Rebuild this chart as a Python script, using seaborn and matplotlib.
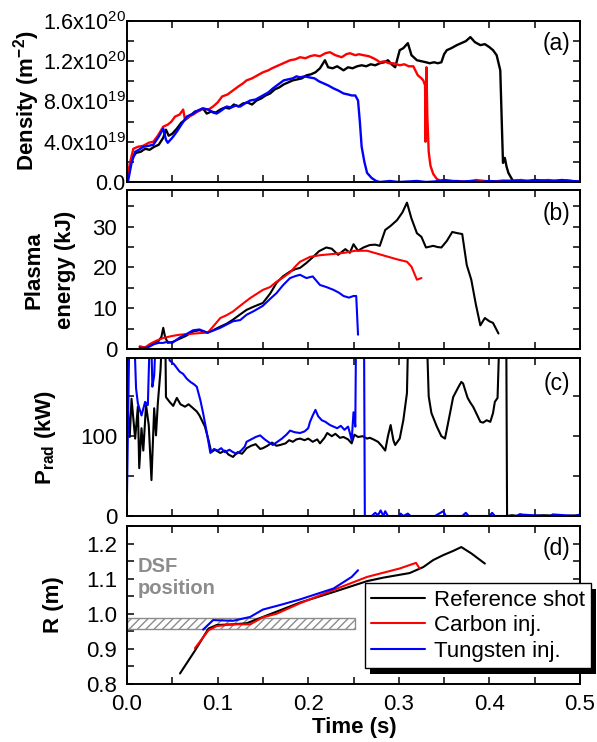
"""
Impurity injection shots: density, plasma energy, radiated power and R position
"""

import numpy as np
import pandas as pd
import matplotlib
matplotlib.use('Agg')
import matplotlib.pyplot as plt
import matplotlib.transforms as mtransforms
from matplotlib.patches import Rectangle
from matplotlib.ticker import MultipleLocator, FormatStrFormatter
import seaborn as sns

# ==================================================================================
# DATA
# ==================================================================================
# (a) line integrated density, in units of 1e19 m^-2
t_dens_ref = [0.0, 0.003, 0.006, 0.010, 0.015, 0.020, 0.025, 0.030, 0.035, 0.040,
              0.043, 0.046, 0.050, 0.055, 0.060, 0.066, 0.070, 0.075, 0.080, 0.084,
              0.088, 0.093, 0.098, 0.103, 0.108, 0.113, 0.118, 0.123, 0.128, 0.133,
              0.138, 0.143, 0.148, 0.153, 0.158, 0.163, 0.168, 0.173, 0.178, 0.183,
              0.188, 0.193, 0.198, 0.203, 0.208, 0.213, 0.2185, 0.222, 0.227, 0.232,
              0.239, 0.244, 0.249, 0.254, 0.259, 0.264, 0.269, 0.274, 0.279, 0.284,
              0.288, 0.292, 0.296, 0.301, 0.305, 0.310, 0.314, 0.320, 0.325, 0.330,
              0.334, 0.339, 0.343, 0.347, 0.350, 0.353, 0.358, 0.364, 0.369, 0.374,
              0.379, 0.384, 0.390, 0.395, 0.400, 0.404, 0.408, 0.412, 0.414, 0.415,
              0.417, 0.419, 0.421, 0.426, 0.432, 0.440, 0.450, 0.460, 0.470, 0.480,
              0.490, 0.500]
dens_ref = [0.0, 1.3, 2.4, 2.9, 3.0, 3.3, 3.2, 3.5, 3.7, 4.4,
            5.2, 4.6, 4.8, 5.3, 5.9, 6.3, 6.6, 7.0, 7.1, 7.3,
            6.8, 7.0, 6.9, 7.2, 7.4, 7.3, 7.7, 7.5, 7.8, 7.9,
            7.7, 8.1, 8.3, 8.6, 8.8, 9.2, 9.4, 9.7, 9.9, 10.1,
            10.2, 10.3, 10.6, 10.7, 10.9, 11.3, 12.1, 11.4, 11.3, 11.5,
            11.1, 11.4, 11.3, 11.5, 11.6, 11.5, 11.7, 11.6, 11.8, 11.9,
            12.1, 11.7, 11.4, 13.1, 13.3, 13.8, 12.6, 12.1, 12.0, 11.9,
            11.8, 11.9, 11.8, 11.9, 12.7, 13.1, 13.3, 13.6, 13.8, 14.0,
            14.4, 13.9, 13.6, 13.7, 13.4, 13.1, 12.6, 11.1, 4.9, 1.9,
            2.4, 1.5, 0.9, 0.1, 0.05, 0.1, 0.0, 0.1, 0.05, 0.15,
            0.1, 0.05]

t_dens_c = [0.0, 0.003, 0.007, 0.012, 0.018, 0.024, 0.029, 0.034, 0.040, 0.045,
            0.049, 0.053, 0.058, 0.062, 0.064, 0.068, 0.073, 0.078, 0.084, 0.090,
            0.095, 0.100, 0.105, 0.111, 0.117, 0.123, 0.128, 0.132, 0.138, 0.144,
            0.150, 0.156, 0.160, 0.165, 0.170, 0.175, 0.180, 0.186, 0.191, 0.197,
            0.202, 0.207, 0.213, 0.219, 0.224, 0.230, 0.237, 0.242, 0.246, 0.252,
            0.256, 0.261, 0.267, 0.272, 0.276, 0.279, 0.284, 0.289, 0.294, 0.301,
            0.306, 0.311, 0.316, 0.321, 0.325, 0.327, 0.329, 0.3295, 0.3305, 0.3315,
            0.333, 0.335, 0.338, 0.342, 0.346, 0.355, 0.365, 0.375, 0.385, 0.395,
            0.405, 0.415, 0.425, 0.435, 0.445, 0.455, 0.465, 0.475, 0.485, 0.495,
            0.500]
dens_c = [0.0, 1.8, 3.3, 3.5, 3.6, 3.9, 4.0, 4.6, 5.5, 5.7,
          6.0, 6.5, 6.7, 7.2, 6.2, 6.5, 6.7, 7.0, 7.3, 7.2,
          7.5, 7.9, 8.5, 8.7, 9.1, 9.5, 9.8, 10.1, 10.3, 10.6,
          10.9, 11.1, 11.3, 11.5, 11.7, 11.9, 12.1, 12.2, 12.4, 12.3,
          12.5, 12.6, 12.5, 12.8, 12.9, 12.6, 12.4, 12.7, 12.8, 12.6,
          12.7, 12.6, 12.5, 12.3, 12.1, 11.9, 12.0, 11.8, 11.8, 11.6,
          11.7, 11.5, 11.5, 10.6, 10.3, 10.1, 9.6, 4.0, 11.4, 6.5,
          3.0, 1.6, 0.8, 0.3, 0.1, 0.05, 0.1, 0.0, 0.2, 0.1,
          0.05, 0.15, 0.1, 0.2, 0.05, 0.1, 0.2, 0.1, 0.15, 0.05,
          0.1]

t_dens_w = [0.0, 0.001, 0.005, 0.009, 0.013, 0.018, 0.024, 0.029, 0.035, 0.040,
            0.043, 0.045, 0.050, 0.055, 0.060, 0.066, 0.073, 0.078, 0.083, 0.090,
            0.095, 0.099, 0.104, 0.110, 0.115, 0.120, 0.125, 0.130, 0.136, 0.142,
            0.150, 0.156, 0.161, 0.167, 0.173, 0.178, 0.183, 0.187, 0.191, 0.196,
            0.201, 0.207, 0.212, 0.217, 0.222, 0.228, 0.233, 0.239, 0.244, 0.248,
            0.252, 0.255, 0.257, 0.259, 0.262, 0.265, 0.270, 0.275, 0.279, 0.290,
            0.300, 0.310, 0.320, 0.330, 0.340, 0.350, 0.360, 0.370, 0.380, 0.390,
            0.400, 0.410, 0.420, 0.430, 0.440, 0.450, 0.460, 0.470, 0.480, 0.490,
            0.500]
dens_w = [0.0, 0.0, 1.9, 3.0, 3.2, 3.5, 3.6, 3.7, 4.5, 5.3,
          4.2, 3.9, 4.4, 5.0, 5.7, 6.5, 6.8, 7.1, 7.3, 7.2,
          6.9, 6.8, 7.1, 7.5, 7.4, 7.6, 7.5, 7.8, 8.1, 8.2,
          8.6, 8.9, 9.3, 9.7, 10.1, 10.2, 10.3, 10.5, 10.4, 10.5,
          10.4, 10.3, 10.0, 9.8, 9.6, 9.3, 9.1, 8.8, 8.7, 8.6,
          8.6, 8.1, 6.0, 3.5, 2.0, 0.9, 0.4, 0.1, 0.0, 0.1,
          0.0, 0.05, 0.1, 0.0, 0.05, 0.2, 0.1, 0.05, 0.1, 0.0,
          0.1, 0.05, 0.1, 0.15, 0.1, 0.2, 0.15, 0.1, 0.2, 0.1,
          0.05]

# (b) plasma stored energy, kJ
t_we_ref = [0.014, 0.020, 0.025, 0.030, 0.035, 0.038, 0.040, 0.042, 0.045, 0.050,
            0.058, 0.065, 0.073, 0.080, 0.089, 0.095, 0.103, 0.110, 0.117, 0.125,
            0.132, 0.140, 0.150, 0.158, 0.165, 0.172, 0.180, 0.186, 0.191, 0.198,
            0.205, 0.212, 0.220, 0.226, 0.233, 0.237, 0.241, 0.246, 0.250, 0.255,
            0.261, 0.268, 0.274, 0.279, 0.285, 0.291, 0.298, 0.304, 0.309, 0.314,
            0.320, 0.325, 0.330, 0.338, 0.343, 0.347, 0.353, 0.359, 0.365, 0.370,
            0.375, 0.380, 0.385, 0.390, 0.395, 0.400, 0.404, 0.410]
we_ref = [0.6, 0.4, 0.8, 1.5, 2.0, 3.0, 5.2, 3.0, 1.5, 1.7,
          2.5, 3.2, 4.3, 4.6, 4.0, 4.6, 5.5, 6.2, 7.2, 8.5,
          9.6, 10.4, 11.3, 13.6, 16.2, 17.8, 19.0, 19.6, 19.9, 21.1,
          22.5, 24.0, 24.9, 24.6, 23.1, 23.8, 24.5, 23.6, 25.7, 24.1,
          24.9, 25.5, 25.6, 25.3, 29.2, 30.2, 31.6, 33.5, 35.9, 32.0,
          28.4, 27.5, 24.9, 25.3, 25.0, 24.9, 26.5, 28.7, 28.4, 28.2,
          20.6, 17.0, 11.0, 5.8, 7.6, 6.8, 6.4, 3.8]

t_we_c = [0.014, 0.020, 0.025, 0.032, 0.040, 0.050, 0.058, 0.070, 0.080, 0.089,
          0.095, 0.103, 0.110, 0.117, 0.126, 0.136, 0.143, 0.150, 0.158, 0.165,
          0.172, 0.180, 0.186, 0.191, 0.202, 0.213, 0.227, 0.240, 0.252, 0.265,
          0.276, 0.287, 0.298, 0.309, 0.314, 0.320, 0.325]
we_c = [0.6, 0.4, 1.2, 2.0, 2.7, 3.2, 3.5, 3.7, 3.9, 4.0,
        5.5, 7.6, 8.3, 9.2, 10.8, 12.5, 13.5, 14.5, 15.2, 16.5,
        17.5, 18.8, 20.3, 21.4, 22.6, 23.0, 23.3, 23.6, 24.1, 24.1,
        23.4, 22.7, 22.0, 21.4, 20.2, 17.0, 17.4]

t_we_w = [0.014, 0.020, 0.025, 0.030, 0.035, 0.040, 0.045, 0.050, 0.058, 0.065,
          0.073, 0.080, 0.089, 0.095, 0.103, 0.110, 0.117, 0.125, 0.132, 0.140,
          0.150, 0.158, 0.165, 0.172, 0.180, 0.186, 0.191, 0.198, 0.205, 0.213,
          0.220, 0.228, 0.234, 0.239, 0.245, 0.250, 0.253, 0.255]
we_w = [0.3, 0.2, 0.6, 1.2, 1.5, 1.5, 1.8, 1.5, 2.8, 3.6,
        4.6, 4.8, 4.0, 4.5, 5.2, 6.0, 6.8, 7.1, 8.4, 9.3,
        10.6, 12.3, 13.7, 15.6, 17.4, 17.9, 18.2, 17.4, 17.8, 15.7,
        15.2, 14.5, 13.8, 13.0, 12.6, 13.0, 13.0, 3.5]

# (c) radiated power, kW (values above the axis top are off scale)
t_prad_ref = [0.000, 0.003, 0.005, 0.009, 0.012, 0.0135, 0.016, 0.018, 0.021, 0.024,
              0.027, 0.030, 0.032, 0.034, 0.037, 0.040, 0.042, 0.043, 0.047, 0.051,
              0.055, 0.059, 0.064, 0.068, 0.073, 0.077, 0.080, 0.086, 0.090, 0.093,
              0.097, 0.103, 0.108, 0.112, 0.117, 0.122, 0.127, 0.132, 0.137, 0.142,
              0.147, 0.150, 0.155, 0.160, 0.165, 0.169, 0.175, 0.179, 0.183, 0.187,
              0.191, 0.196, 0.200, 0.205, 0.210, 0.213, 0.218, 0.221, 0.226, 0.230,
              0.235, 0.239, 0.244, 0.248, 0.251, 0.255, 0.260, 0.265, 0.268, 0.272,
              0.277, 0.281, 0.285, 0.288, 0.291, 0.294, 0.296, 0.301, 0.305, 0.309,
              0.311, 0.330, 0.333, 0.336, 0.342, 0.347, 0.351, 0.355, 0.360, 0.366,
              0.369, 0.371, 0.374, 0.376, 0.379, 0.382, 0.385, 0.390, 0.393, 0.397,
              0.401, 0.404, 0.406, 0.409, 0.412, 0.4185, 0.4195, 0.425, 0.432, 0.434,
              0.440, 0.460, 0.480, 0.500]
prad_ref = [150, 99, 147, 97, 137, 60, 110, 82, 139, 114,
            45, 135, 101, 141, 183, 260, 260, 149, 143, 138,
            148, 140, 137, 140, 135, 131, 126, 112, 95, 80,
            83, 79, 82, 77, 74, 80, 78, 85, 88, 90,
            84, 85, 88, 92, 88, 89, 91, 95, 93, 96,
            97, 95, 97, 93, 96, 91, 98, 104, 100, 103,
            98, 99, 96, 91, 102, 99, 100, 97, 98, 96,
            93, 88, 82, 100, 114, 95, 89, 97, 120, 154,
            260, 260, 150, 129, 112, 100, 97, 120, 149, 162,
            168, 166, 155, 148, 142, 137, 130, 118, 117, 120,
            118, 129, 143, 148, 260, 260, 0, 1, 0, 2,
            0, 1, 0, 1]

t_prad_w = [0.000, 0.003, 0.007, 0.010, 0.012, 0.016, 0.020, 0.023, 0.026, 0.028,
            0.030, 0.033, 0.036, 0.040, 0.044, 0.047, 0.052, 0.058, 0.062, 0.066,
            0.070, 0.074, 0.077, 0.081, 0.084, 0.088, 0.092, 0.096, 0.100, 0.104,
            0.108, 0.113, 0.117, 0.121, 0.126, 0.130, 0.132, 0.137, 0.142, 0.147,
            0.152, 0.157, 0.161, 0.166, 0.171, 0.176, 0.180, 0.185, 0.191, 0.196,
            0.200, 0.202, 0.205, 0.208, 0.211, 0.215, 0.219, 0.224, 0.228, 0.232,
            0.236, 0.240, 0.244, 0.246, 0.248, 0.250, 0.252, 0.253, 0.2615, 0.2625,
            0.270, 0.274, 0.277, 0.280, 0.283, 0.285, 0.288, 0.300, 0.302, 0.305,
            0.310, 0.313, 0.340, 0.349, 0.352, 0.370, 0.374, 0.377, 0.400, 0.403,
            0.406, 0.430, 0.433, 0.460, 0.467, 0.470, 0.495, 0.500]
prad_w = [28, 260, 260, 160, 141, 126, 143, 139, 260, 162,
          176, 260, 198, 260, 260, 195, 190, 181, 178, 172,
          168, 165, 162, 145, 129, 105, 79, 84, 82, 85,
          80, 83, 80, 78, 82, 87, 93, 96, 99, 101,
          96, 92, 89, 93, 97, 102, 107, 105, 104, 106,
          110, 118, 126, 133, 125, 120, 118, 114, 112, 110,
          113, 108, 112, 104, 95, 130, 112, 260, 260, 0,
          0, 4, 1, 7, 0, 6, 0, 0, 3, 0,
          3, 0, 0, 6, 0, 0, 4, 0, 0, 4,
          0, 0, 2, 0, 0, 2, 0, 2]

# (d) major radius R, m
t_r_ref = [0.0585, 0.075, 0.090, 0.099, 0.117, 0.132, 0.150, 0.165, 0.191, 0.228,
           0.265, 0.283, 0.312, 0.327, 0.338, 0.349, 0.360, 0.369, 0.380, 0.395]
r_ref = [0.830, 0.895, 0.958, 0.968, 0.970, 0.973, 0.991, 1.006, 1.032, 1.062,
         1.093, 1.103, 1.116, 1.133, 1.153, 1.167, 1.179, 1.190, 1.172, 1.143]

t_r_c = [0.075, 0.090, 0.099, 0.117, 0.136, 0.150, 0.165, 0.191, 0.228, 0.265,
         0.301, 0.319, 0.323]
r_c = [0.902, 0.953, 0.965, 0.970, 0.970, 0.990, 1.000, 1.030, 1.068, 1.105,
       1.129, 1.145, 1.129]

t_r_w = [0.084, 0.095, 0.117, 0.136, 0.150, 0.169, 0.191, 0.228, 0.248, 0.255]
r_w = [0.955, 0.982, 0.980, 0.991, 1.012, 1.025, 1.041, 1.072, 1.105, 1.124]

# DSF position band
dsf_t_end = 0.252
dsf_r_low, dsf_r_high = 0.958, 0.987

labels = ['Reference shot', 'Carbon inj.', 'Tungsten inj.']
colors = ['black', '#ff0000', '#0000ff']

# ==================================================================================
# STYLE
# ==================================================================================
sns.set_style('ticks', rc={'axes.edgecolor': 'black', 'text.color': 'black',
                           'axes.labelcolor': 'black', 'xtick.color': 'black',
                           'ytick.color': 'black'})
plt.rcParams['font.family'] = ['Liberation Sans', 'DejaVu Sans']
plt.rcParams['mathtext.fontset'] = 'custom'
plt.rcParams['mathtext.rm'] = 'Liberation Sans'
plt.rcParams['mathtext.it'] = 'Liberation Sans:italic'
plt.rcParams['mathtext.bf'] = 'Liberation Sans:bold'
plt.rcParams['hatch.color'] = '#8c8c8c'
plt.rcParams['hatch.linewidth'] = 1.0

FS = 16
W, H = 597, 742
fig = plt.figure(figsize=(W / 100, H / 100), dpi=100)


def px_axes(top, bottom, left=127, right=580):
    return fig.add_axes([left / W, 1 - bottom / H, (right - left) / W, (bottom - top) / H])


def style_axis(ax):
    ax.set_xlim(0, 0.5)
    ax.xaxis.set_major_locator(MultipleLocator(0.1))
    ax.xaxis.set_minor_locator(MultipleLocator(0.05))
    ax.tick_params(which='both', direction='in', top=True, right=True,
                   length=5, width=1.1, labelsize=FS, pad=7)
    for sp in ax.spines.values():
        sp.set_linewidth(1.4)
        sp.set_color('black')
    ax.set_xlabel('')
    ax.set_ylabel('')


def draw(ax, series, lw=1.5, with_labels=False):
    for (tt, vv), c, lab in zip(series, colors, labels):
        sns.lineplot(x=tt, y=vv, color=c, linewidth=lw, ax=ax, estimator=None,
                     sort=False, label=lab if with_labels else None, legend=False)


ax1 = px_axes(21, 182)
ax2 = px_axes(190, 349)
ax3 = px_axes(358, 516)
ax4 = px_axes(526, 684)

# (a) density
draw(ax1, [(t_dens_ref, dens_ref), (t_dens_c, dens_c), (t_dens_w, dens_w)], lw=1.7)
style_axis(ax1)
ax1.set_ylim(0, 16)
ax1.set_yticks([0, 4, 8, 12, 16])
ax1.set_yticklabels(['0.0', '4.0x10$^{19}$', '8.0x10$^{19}$', '1.2x10$^{20}$', '1.6x10$^{20}$'])
ax1.yaxis.set_minor_locator(MultipleLocator(2))
ax1.tick_params(axis='y', labelsize=15.5, pad=1)

# (b) plasma energy
draw(ax2, [(t_we_ref, we_ref), (t_we_c, we_c), (t_we_w, we_w)])
style_axis(ax2)
ax2.set_ylim(0, 39)
ax2.yaxis.set_major_locator(MultipleLocator(10))
ax2.yaxis.set_minor_locator(MultipleLocator(5))

# (c) radiated power
sns.lineplot(x=t_prad_ref, y=prad_ref, color=colors[0], linewidth=1.5, ax=ax3,
             estimator=None, sort=False)
sns.lineplot(x=t_prad_w, y=prad_w, color=colors[2], linewidth=1.5, ax=ax3,
             estimator=None, sort=False)
style_axis(ax3)
ax3.set_ylim(0, 198)
ax3.yaxis.set_major_locator(MultipleLocator(100))
ax3.yaxis.set_minor_locator(MultipleLocator(50))

# (d) R position
ax4.add_patch(Rectangle((0, dsf_r_low), dsf_t_end, dsf_r_high - dsf_r_low,
                        facecolor='white', edgecolor='#8c8c8c', hatch='////',
                        linewidth=1.0, zorder=1))
draw(ax4, [(t_r_ref, r_ref), (t_r_c, r_c), (t_r_w, r_w)], with_labels=True)
style_axis(ax4)
ax4.set_ylim(0.8, 1.25)
ax4.yaxis.set_major_locator(MultipleLocator(0.1))
ax4.yaxis.set_minor_locator(MultipleLocator(0.05))
ax4.yaxis.set_major_formatter(FormatStrFormatter('%.1f'))
ax4.xaxis.set_major_formatter(FormatStrFormatter('%.1f'))
ax4.text(0.024, 0.674, 'DSF\nposition', transform=ax4.transAxes, ha='left',
         va='center', color='#8c8c8c', fontsize=14.5, fontweight='bold')

for ax in (ax1, ax2, ax3):
    ax.tick_params(labelbottom=False)

# panel tags
for ax, tag, yy in zip((ax1, ax2, ax3, ax4), ['(a)', '(b)', '(c)', '(d)'],
                       [0.863, 0.855, 0.84, 0.86]):
    ax.text(0.978, yy, tag, transform=ax.transAxes, ha='right', va='center',
            fontsize=FS + 0.5)

# legend with a hard black drop shadow
handles, _ = ax4.get_legend_handles_labels()
leg = ax4.legend(handles, labels, loc='lower left', bbox_to_anchor=(0.525, 0.10),
                 fontsize=FS, frameon=True, fancybox=False, framealpha=1,
                 edgecolor='black', handlelength=2.4, handletextpad=0.4,
                 labelspacing=0.2, borderpad=0.3, borderaxespad=0)
leg.get_frame().set_linewidth(1.0)
leg.set_zorder(6)

# axis labels
fig.text(27 / W, 1 - 101 / H, 'Density (m$^{\\mathbf{-2}}$)', rotation=90,
         ha='center', va='center', fontsize=FS, fontweight='bold')
fig.text(50 / W, 1 - 270 / H, 'Plasma\nenergy (kJ)', rotation=90, ha='center',
         va='center', fontsize=FS, fontweight='bold', multialignment='center',
         linespacing=1.65)
fig.text(46 / W, 1 - 437 / H, 'P$_{\\mathbf{rad}}$ (kW)', rotation=90,
         ha='center', va='center', fontsize=FS, fontweight='bold')
fig.text(53 / W, 1 - 605 / H, 'R (m)', rotation=90, ha='center', va='center',
         fontsize=FS, fontweight='bold')
fig.text(354 / W, 1 - 728 / H, 'Time (s)', ha='center', va='center',
         fontsize=FS, fontweight='bold')

fig.canvas.draw()
bb = leg.get_frame().get_window_extent(fig.canvas.get_renderer())
shadow = Rectangle((bb.x0 + 5, bb.y0 - 6), bb.width, bb.height,
                   transform=mtransforms.IdentityTransform(), facecolor='black',
                   edgecolor='none', clip_on=False, zorder=5.5)
ax4.add_artist(shadow)

fig.savefig('out.png', dpi=100)
print('saved out.png')
